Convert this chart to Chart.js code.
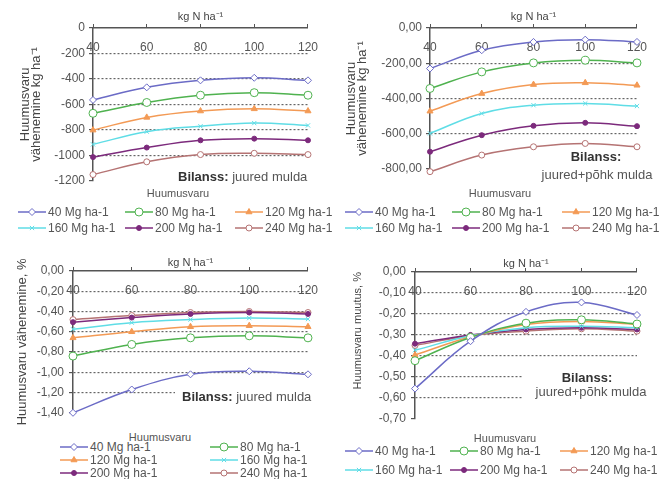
<!DOCTYPE html>
<html lang="et">
<head>
<meta charset="UTF-8">
<title>Huumusvaru</title>
<script src="https://cdn.jsdelivr.net/npm/chart.js"></script>
<style>
    body {
        margin: 0;
        width: 659px;
        height: 479px;
        overflow: hidden;
        position: relative;
        background: #fff;
        font-family: 'Liberation Sans', Arial, sans-serif;
        color: #555;
    }
    .panel { position: absolute; }
    .lg-title, .lg-item {
        position: absolute;
        white-space: nowrap;
        font-size: 11px;
        line-height: 14px;
        color: #555;
    }
    .lg-title { transform: translateX(-50%); }
    .lg-item { display: flex; align-items: center; font-size: 12px; }
    .lg-item canvas { margin-right: 2px; }
</style>
</head>
<body>

<div class="panel" style="left:0;top:0;width:330px;height:192px"><canvas id="c1"></canvas></div>
<div class="panel" style="left:330px;top:0;width:329px;height:185px"><canvas id="c2"></canvas></div>
<div class="panel" style="left:0;top:250px;width:330px;height:175px"><canvas id="c3"></canvas></div>
<div class="panel" style="left:330px;top:250px;width:329px;height:181px"><canvas id="c4"></canvas></div>
<div id="legends"></div>

<script>
    // N rate, kg N/ha (x axis)
    const nRates = [40, 60, 80, 100, 120];
    const seriesNames = ['40 Mg ha-1', '80 Mg ha-1', '120 Mg ha-1', '160 Mg ha-1', '200 Mg ha-1', '240 Mg ha-1'];

    // Bilanss: juured mulda, kg/ha
    const kgRoots = [
        [-565, -466, -411, -391, -411],
        [-670, -585, -528, -508, -528],
        [-802, -702, -652, -635, -652],
        [-914, -814, -772, -747, -765],
        [-1014, -939, -882, -869, -882],
        [-1151, -1051, -994, -984, -994]
    ];
    // Bilanss: juured+põhk mulda, kg/ha
    const kgRootsStraw = [
        [-230, -126, -79, -66, -79],
        [-343, -249, -198, -183, -198],
        [-472, -372, -321, -311, -325],
        [-598, -485, -438, -428, -443],
        [-702, -608, -555, -538, -557],
        [-815, -721, -674, -655, -674]
    ];
    // Bilanss: juured mulda, %
    const pctRoots = [
        [-1.40, -1.17, -1.02, -0.99, -1.02],
        [-0.84, -0.725, -0.66, -0.64, -0.66],
        [-0.66, -0.60, -0.55, -0.54, -0.55],
        [-0.575, -0.51, -0.48, -0.465, -0.475],
        [-0.505, -0.46, -0.424, -0.41, -0.424],
        [-0.48, -0.44, -0.41, -0.40, -0.41]
    ];
    // Bilanss: juured+põhk mulda, %
    const pctRootsStraw = [
        [-0.556, -0.33, -0.19, -0.145, -0.205],
        [-0.423, -0.312, -0.244, -0.228, -0.248],
        [-0.396, -0.309, -0.25, -0.236, -0.25],
        [-0.373, -0.304, -0.266, -0.259, -0.266],
        [-0.342, -0.30, -0.274, -0.266, -0.274],
        [-0.35, -0.304, -0.282, -0.271, -0.282]
    ];

    // y axis ranges: [min, max, step]
    const yRange1 = [-1200, 0, 200];
    const yRange2 = [-800, 0, 200];
    const yRange3 = [-1.4, 0, 0.2];
    const yRange4 = [-0.7, 0, 0.1];

    const colors = ['#6b6bc6', '#4fb24f', '#f39a55', '#5fdde6', '#7c2a7c', '#b57373'];
    const fills = ['#fff', '#fff', '#f39a55', '#5fdde6', '#7c2a7c', '#fff'];
    const markers = ['rectRot', 'circle', 'triangle', 'crossRot', 'circle', 'circle'];
    const radii = [3.5, 4, 3.5, 3, 2.5, 3];

    const family = "'Liberation Sans', Arial, sans-serif";
    const textColor = '#555';
    const axisColor = '#555';
    const gridColor = '#666';

    function commaFmt(v) {
        if (Math.abs(v) < 1e-9) v = 0;
        return v.toFixed(2).replace('.', ',');
    }

    function notePlugin(note) {
        return {
            id: 'note',
            beforeDatasetsDraw(chart) {
                const ctx = chart.ctx;
                ctx.save();
                ctx.fillStyle = '#fff';
                ctx.fillRect(note.box[0], note.box[1], note.box[2], note.box[3]);
                ctx.textBaseline = 'middle';
                note.lines.forEach(ln => {
                    ctx.font = 'bold 13px ' + family;
                    const bw = ln.bold ? ctx.measureText(ln.bold).width : 0;
                    ctx.font = '13px ' + family;
                    const nw = ln.rest ? ctx.measureText(ln.rest).width : 0;
                    let x = ln.center ? ln.x - (bw + nw) / 2 : ln.x;
                    if (ln.bold) {
                        ctx.font = 'bold 13px ' + family;
                        ctx.fillStyle = '#333';
                        ctx.fillText(ln.bold, x, ln.y);
                    }
                    if (ln.rest) {
                        ctx.font = '13px ' + family;
                        ctx.fillStyle = '#555';
                        ctx.fillText(ln.rest, x + bw, ln.y);
                    }
                });
                ctx.restore();
            }
        };
    }

    function makePanel(id, p) {
        const [yMin, yMax, yStep] = p.range;
        new Chart(document.getElementById(id), {
            type: 'line',
            data: {
                labels: nRates,
                datasets: p.values.map((vals, i) => ({
                    label: seriesNames[i],
                    data: vals,
                    borderColor: colors[i],
                    backgroundColor: fills[i],
                    pointBackgroundColor: fills[i],
                    pointBorderColor: colors[i],
                    pointStyle: markers[i],
                    pointRadius: radii[i],
                    pointBorderWidth: 1,
                    borderWidth: 1.5,
                    tension: 0.4,
                    clip: false
                }))
            },
            options: {
                responsive: true,
                maintainAspectRatio: false,
                animation: false,
                layout: {
                    autoPadding: false,
                    padding: { left: 0, top: 0, right: p.padRight, bottom: p.padBottom }
                },
                plugins: {
                    legend: { display: false },
                    tooltip: { enabled: false }
                },
                scales: {
                    x: {
                        type: 'category',
                        position: 'top',
                        offset: false,
                        grid: { drawOnChartArea: false, tickLength: 4, color: axisColor },
                        border: { color: axisColor, width: 1.5 },
                        ticks: {
                            mirror: true,
                            padding: p.xTickPad,
                            color: textColor,
                            font: { family, size: 12 },
                            maxRotation: 0,
                            autoSkip: false
                        },
                        title: {
                            display: true,
                            text: 'kg N ha⁻¹',
                            color: '#444',
                            font: { family, size: 11, lineHeight: 1 },
                            padding: { top: p.xTitlePad, bottom: 0 }
                        },
                        afterFit: s => { s.height = p.top; }
                    },
                    y: {
                        min: yMin,
                        max: yMax,
                        grid: {
                            tickLength: 4,
                            tickColor: axisColor,
                            color: c => {
                                if (!c.tick) return gridColor;
                                const v = c.tick.value;
                                return (Math.abs(v - yMin) < 1e-6 || Math.abs(v - yMax) < 1e-6) ? 'rgba(0,0,0,0)' : gridColor;
                            },
                            lineWidth: 1.2
                        },
                        border: { color: axisColor, width: 1.5, dash: [2, 2] },
                        ticks: {
                            stepSize: yStep,
                            padding: p.yTickPad,
                            color: textColor,
                            font: { family, size: 12 },
                            callback: p.fmt
                        },
                        title: {
                            display: true,
                            text: p.yTitle,
                            align: p.yTitleAlign || 'center',
                            color: '#444',
                            font: { family, size: p.yTitleSize || 13, lineHeight: 0.85 },
                            padding: { top: p.yTitlePad, bottom: 0 }
                        },
                        afterFit: s => { s.width = p.left; }
                    }
                }
            },
            plugins: [notePlugin(p.note)]
        });
    }

    makePanel('c1', {
        values: kgRoots, range: yRange1, fmt: v => String(Math.round(v)),
        left: 93, top: 28, padRight: 8, padBottom: 4,
        xTickPad: 12, xTitlePad: 11, yTickPad: 4, yTitlePad: 20,
        yTitle: ['Huumusvaru', 'vähenemine kg ha⁻¹'],
        note: { box: [172, 168, 150, 18], lines: [{ bold: 'Bilanss:', rest: ' juured mulda', x: 178, y: 177 }] }
    });
    makePanel('c2', {
        values: kgRootsStraw, range: yRange2, fmt: commaFmt,
        left: 100, top: 28, padRight: 7, padBottom: 16,
        xTickPad: 12, xTitlePad: 11, yTickPad: 4, yTitlePad: 16,
        yTitle: ['Huumusvaru', 'vähenemine kg ha⁻¹'],
        note: { box: [205, 148, 117, 36], lines: [
            { bold: 'Bilanss:', x: 266, y: 157, center: true },
            { rest: 'juured+põhk mulda', x: 267, y: 175, center: true }
        ] }
    });
    makePanel('c3', {
        values: pctRoots, range: yRange3, fmt: commaFmt,
        left: 73, top: 21, padRight: 10, padBottom: 6,
        xTickPad: 12, xTitlePad: 7, yTickPad: 5, yTitlePad: 17,
        yTitle: 'Huumusvaru vähenemine, %',
        note: { box: [175, 139, 145, 17], lines: [{ bold: 'Bilanss:', rest: ' juured mulda', x: 182, y: 147 }] }
    });
    makePanel('c4', {
        values: pctRootsStraw, range: yRange4, fmt: commaFmt,
        left: 85, top: 22, padRight: 9, padBottom: 6,
        xTickPad: 12, xTitlePad: 8, yTickPad: 5, yTitlePad: 23,
        yTitle: 'Huumusvaru muutus, %', yTitleAlign: 'end', yTitleSize: 11,
        note: { box: [193, 120, 127, 40], lines: [
            { bold: 'Bilanss:', x: 257, y: 128, center: true },
            { rest: 'juured+põhk mulda', x: 261, y: 142, center: true }
        ] }
    });

    // legends (line + marker swatches)
    function swatch(i) {
        const c = document.createElement('canvas');
        c.width = 28; c.height = 10;
        const g = c.getContext('2d');
        g.strokeStyle = colors[i];
        g.lineWidth = 1.5;
        g.beginPath(); g.moveTo(0, 5); g.lineTo(28, 5); g.stroke();
        g.lineWidth = 1;
        g.fillStyle = fills[i];
        if (Chart.helpers && Chart.helpers.drawPoint) {
            Chart.helpers.drawPoint(g, { pointStyle: markers[i], radius: radii[i], borderWidth: 1, rotation: 0 }, 14, 5);
        }
        return c;
    }

    const legendLayouts = [
        { title: [178, 193], cols: [18, 125, 235], rows: [212, 228], perRow: 3 },
        { title: [500, 193], cols: [345, 452, 562], rows: [212, 228], perRow: 3 },
        { title: [160, 437], cols: [60, 210], rows: [447, 460, 473], perRow: 2 },
        { title: [505, 438], cols: [345, 450, 560], rows: [451, 470], perRow: 3 }
    ];
    const holder = document.getElementById('legends');
    legendLayouts.forEach(L => {
        const t = document.createElement('div');
        t.className = 'lg-title';
        t.textContent = 'Huumusvaru';
        t.style.left = L.title[0] + 'px';
        t.style.top = (L.title[1] - 7) + 'px';
        holder.appendChild(t);
        seriesNames.forEach((name, i) => {
            const it = document.createElement('div');
            it.className = 'lg-item';
            it.style.left = L.cols[i % L.perRow] + 'px';
            it.style.top = (L.rows[Math.floor(i / L.perRow)] - 7) + 'px';
            it.appendChild(swatch(i));
            it.appendChild(document.createTextNode(name));
            holder.appendChild(it);
        });
    });
</script>

</body>
</html>
